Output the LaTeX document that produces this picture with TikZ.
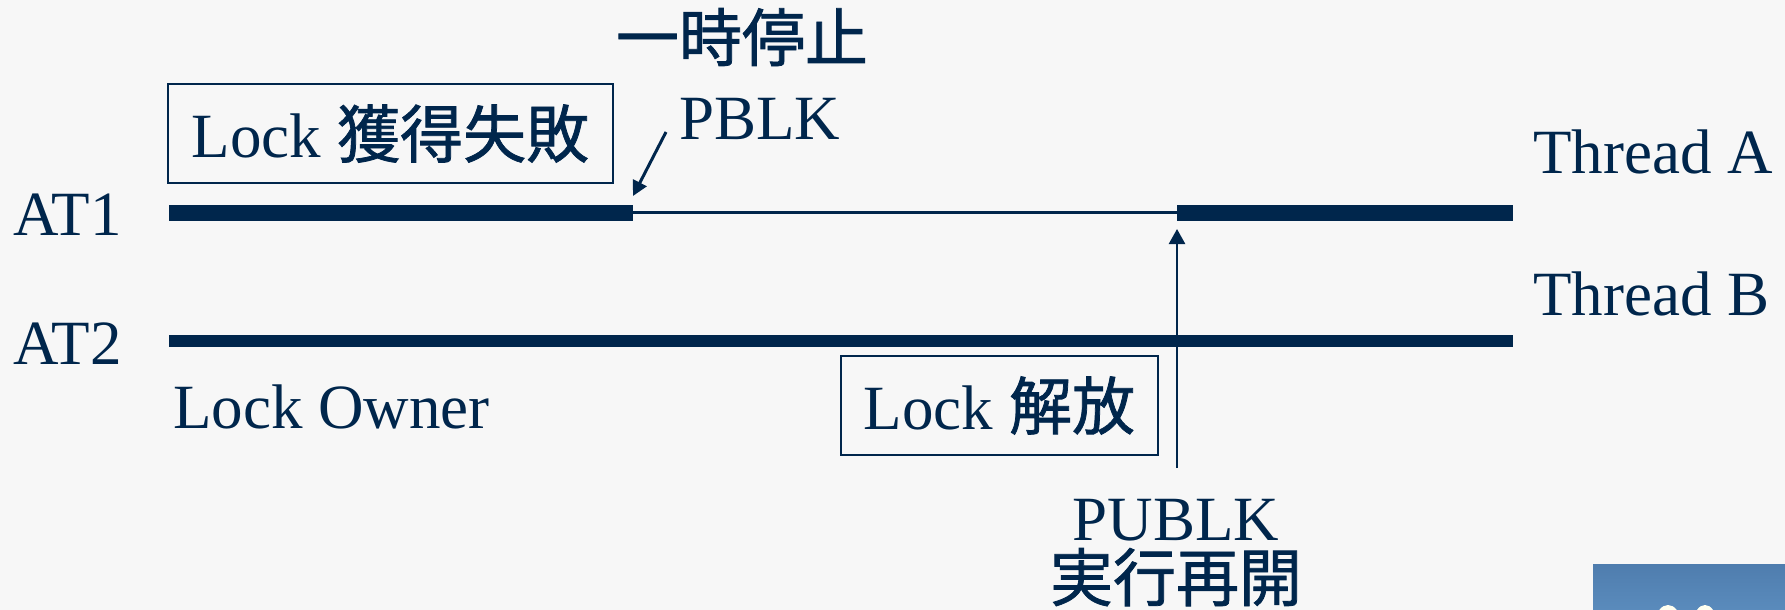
\documentclass[tikz,border=0pt]{standalone}
\usepackage{fontspec}
\setmainfont{Liberation Serif}
\newfontfamily\cjk[FakeBold=1.2]{Noto Sans CJK JP}
\usetikzlibrary{arrows.meta}
\definecolor{ink}{HTML}{00264C}
\definecolor{bg}{HTML}{F7F7F7}
\definecolor{slideblue}{HTML}{5A8BBC}
\definecolor{slideblue2}{HTML}{4F7DAE}
\definecolor{cream}{HTML}{FFFFF0}
\tikzset{
  lbl/.style={inner sep=0pt, text=ink, font=\fontsize{63}{70}\selectfont},
  cjklbl/.style={inner sep=0pt, text=ink, font=\fontsize{63}{70}\selectfont\cjk},
  boxnode/.style={draw=ink, line width=2pt, inner sep=0pt, text=ink,
    font=\fontsize{63}{70}\selectfont},
  thickrun/.style={draw=ink, line width=16pt},
  thinrun/.style={draw=ink, line width=3pt},
  ownerrun/.style={draw=ink, line width=12pt},
  pointer/.style={draw=ink, line width=3pt, -{Triangle[length=15pt,width=15pt]}},
  riser/.style={draw=ink, line width=2.5pt, -{Triangle[length=15pt,width=16pt]}}
}
\begin{document}
\begin{tikzpicture}[x=1pt,y=-1pt]
\fill[bg] (0,0) rectangle (1785,610);
\useasboundingbox (0,0) rectangle (1785,610);

% coordinates of the timelines
\coordinate (a1s) at (169,213);
\coordinate (a1p) at (633,213);
\coordinate (a1r) at (1177,213);
\coordinate (a1e) at (1513,213);
\coordinate (a2s) at (169,341);
\coordinate (a2e) at (1513,341);

% timelines
\draw[thickrun] (a1s) -- (a1p);
\draw[thinrun] (a1p |- 0,212) -- (a1r |- 0,212);
\draw[thickrun] (a1r) -- (a1e);
\draw[ownerrun] (a2s) -- (a2e);

% labels
\node[lbl, anchor=base west] (at1) at (13,235) {AT1};
\node[lbl, anchor=base west] (at2) at (13,364) {AT2};
\node[lbl, anchor=base west] (tha) at (1533,173) {Thread A};
\node[lbl, anchor=base west] (thb) at (1533,315) {Thread B};
\node[lbl, anchor=base west] (owner) at (173,428) {Lock Owner};

% boxes
\node[boxnode, minimum width=445pt, minimum height=99pt] (fail) at (390.5,133.5)
  {Lock {\cjk 獲得失敗}};
\node[boxnode, minimum width=317pt, minimum height=99pt] (rel) at (999.5,405.5)
  {Lock {\cjk 解放}};

% PBLK
\node[cjklbl, anchor=base] (pause) at (742,61) {一時停止};
\node[lbl, anchor=base west] (pblk) at (679,139) {PBLK};
\coordinate (pstart) at (666,132);
\coordinate (ptip) at (633,196);
\draw[pointer] (pstart) -- (ptip);

% PUBLK
\node[inner sep=0pt, text=ink, align=center, font=\fontsize{63}{61}\selectfont,
  anchor=base] (publk) at (1176,601) {PUBLK\\{\cjk 実行再開}};
\coordinate (rstart) at (1177,468);
\coordinate (rtip) at (1177,229);
\draw[riser] (rstart) -- (rtip);

% slide page tab (cut off)
\begin{scope}
\clip (1593,564) rectangle (1785,610);
\shade[top color=slideblue2, bottom color=slideblue] (1593,564) rectangle (1785,610);
\fill[cream] (1668,621) ellipse [x radius=12, y radius=16];
\fill[cream] (1705,621) ellipse [x radius=11, y radius=16];
\end{scope}
\end{tikzpicture}
\end{document}
